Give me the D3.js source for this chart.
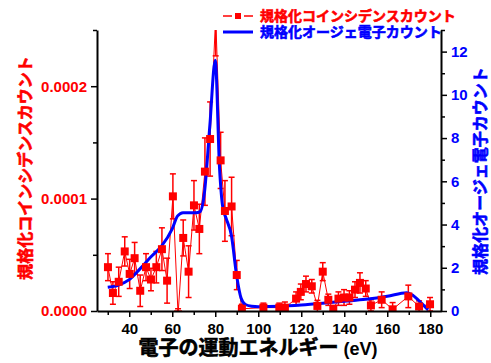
<!DOCTYPE html>
<html>
<head>
<meta charset="utf-8">
<script src="https://cdn.jsdelivr.net/npm/d3@7"></script>
<style>
  body { margin: 0; background: #fff; }
  text { font-family: "Liberation Sans", Arial, "Noto Sans CJK JP", sans-serif; font-weight: bold; }
  .heavy { stroke-width: 0.6px; paint-order: stroke; }
</style>
</head>
<body>
<svg id="chart" width="491" height="363"></svg>
<script>
// coincidence counts (x1e-4) with errors
var coinEnergy = [30.1, 32.4, 35.1, 37.9, 40.2, 42.5, 45.1, 47.8, 50.1, 52.6, 55.2, 57.6, 60.3, 62.7, 65.1, 67.6, 70.1, 72.6, 75.2, 77.6, 80.2, 82.5, 84.5, 87.6, 90.0, 92.4, 102.4, 109.8, 112.4, 117.6, 119.8, 122.2, 124.9, 127.5, 130.0, 132.6, 134.9, 137.3, 139.9, 142.4, 145.0, 147.3, 150.0, 152.4, 157.4, 162.5, 169.8, 174.8, 179.9];
var coinValue = [0.39, 0.16, 0.26, 0.53, 0.33, 0.47, 0.18, 0.39, 0.28, 0.39, 0.55, 0.27, 1.02, -0.03, 0.65, 0.35, 0.94, 0.73, 1.24, 1.53, 2.62, 1.34, 0.89, 0.93, 0.32, 0.02, 0.03, 0.03, 0.03, 0.11, 0.17, 0.24, 0.22, 0.045, 0.35, 0.10, 0.01, 0.11, 0.12, 0.12, 0.19, 0.25, 0.20, 0.05, 0.10, 0.015, 0.13, 0.04, 0.06];
var coinError = [0.12, 0.10, 0.13, 0.13, 0.13, 0.14, 0.14, 0.12, 0.10, 0.14, 0.19, 0.20, 0.20, 0.05, 0.16, 0.23, 0.22, 0.22, 0.30, 0.33, 0.35, 0.25, 0.27, 0.26, 0.13, 0.04, 0.04, 0.04, 0.05, 0.06, 0.07, 0.07, 0.06, 0.05, 0.08, 0.05, 0.04, 0.06, 0.07, 0.06, 0.07, 0.09, 0.07, 0.05, 0.07, 0.06, 0.10, 0.05, 0.06];

// auger electron counts
var augerEnergy = [30, 35, 40, 45, 50, 55, 60, 62.5, 65, 68, 71, 73, 75, 77.5, 80, 82, 83.5, 85, 87.5, 90, 92, 94, 97, 100, 110, 120, 130, 140, 150, 160, 169, 172, 176, 179];
var augerValue = [1.1, 1.2, 1.45, 1.95, 2.5, 3.0, 3.8, 4.4, 4.55, 4.55, 4.55, 4.6, 5.5, 8.6, 11.6, 6.6, 4.8, 4.3, 3.5, 1.6, 0.6, 0.3, 0.22, 0.2, 0.22, 0.28, 0.36, 0.45, 0.54, 0.68, 0.85, 0.72, 0.35, 0.05];

var xTicks = [40, 60, 80, 100, 120, 140, 160, 180];
var xMinor = [30, 50, 70, 90, 110, 130, 150, 170];
var leftTicks = [0, 0.0001, 0.0002];
var leftMinor = [0.00005, 0.00015, 0.00025];
var rightTicks = [0, 2, 4, 6, 8, 10, 12];
var rightMinor = [1, 3, 5, 7, 9, 11, 13];

var red = "#ff0000", blue = "#0000ff";
var svg = d3.select("#chart");

var x = d3.scaleLinear().domain([25, 185]).range([97, 441]);
var yL = d3.scaleLinear().domain([0, 0.00025]).range([311, 30]);
var yR = d3.scaleLinear().domain([0, 13]).range([311, 30]);

var coin = coinEnergy.map(function(e, i){
    return {e: e, v: coinValue[i] * 1e-4, err: coinError[i] * 1e-4};
});
var auger = augerEnergy.map(function(e, i){ return {e: e, v: augerValue[i]}; });

svg.append("clipPath").attr("id", "clip")
    .append("rect").attr("x", 97).attr("y", 30).attr("width", 344).attr("height", 281);

var plot = svg.append("g").attr("clip-path", "url(#clip)");

// red connecting line
plot.append("path")
    .datum(coin)
    .attr("fill", "none")
    .attr("stroke", red)
    .attr("stroke-width", 1)
    .attr("d", d3.line().x(function(d){ return x(d.e); }).y(function(d){ return yL(d.v); }));

// error bars
var eb = plot.selectAll(".eb").data(coin).enter().append("g")
    .attr("stroke", red).attr("stroke-width", 1.5);
eb.append("line")
    .attr("x1", function(d){ return x(d.e); }).attr("x2", function(d){ return x(d.e); })
    .attr("y1", function(d){ return yL(d.v - d.err); }).attr("y2", function(d){ return yL(d.v + d.err); });
eb.append("line")
    .attr("x1", function(d){ return x(d.e) - 3; }).attr("x2", function(d){ return x(d.e) + 3; })
    .attr("y1", function(d){ return yL(d.v + d.err); }).attr("y2", function(d){ return yL(d.v + d.err); });
eb.append("line")
    .attr("x1", function(d){ return x(d.e) - 3; }).attr("x2", function(d){ return x(d.e) + 3; })
    .attr("y1", function(d){ return yL(d.v - d.err); }).attr("y2", function(d){ return yL(d.v - d.err); });

// blue auger line
plot.append("path")
    .datum(auger)
    .attr("fill", "none")
    .attr("stroke", blue)
    .attr("stroke-width", 3)
    .attr("stroke-linejoin", "round")
    .attr("d", d3.line().curve(d3.curveMonotoneX)
        .x(function(d){ return x(d.e); }).y(function(d){ return yR(d.v); }));

// squares
plot.selectAll(".sq").data(coin).enter().append("rect")
    .attr("x", function(d){ return x(d.e) - 4; })
    .attr("y", function(d){ return yL(d.v) - 4; })
    .attr("width", 8).attr("height", 8)
    .attr("fill", red);

// axes
function styleAxis(g, color){
    g.select(".domain").attr("stroke", "#000").attr("stroke-width", 2);
    g.selectAll(".tick line").attr("stroke", "#000").attr("stroke-width", 1.5);
    g.selectAll("text").attr("fill", color).style("font-size", "15px");
}

var xAxis = svg.append("g").attr("transform", "translate(0,311)")
    .call(d3.axisBottom(x).tickValues(xTicks).tickSize(6).tickSizeOuter(0).tickPadding(6));
styleAxis(xAxis, "#000");
svg.append("g").attr("transform", "translate(0,311)")
    .call(d3.axisBottom(x).tickValues(xMinor).tickSize(4).tickFormat(""))
    .call(function(g){ g.select(".domain").remove(); g.selectAll("line").attr("stroke", "#000").attr("stroke-width", 1.5); });

var lAxis = svg.append("g").attr("transform", "translate(97,0)")
    .call(d3.axisLeft(yL).tickValues(leftTicks).tickSize(6).tickSizeOuter(0).tickPadding(4).tickFormat(d3.format(".4f")));
styleAxis(lAxis, red);
svg.append("g").attr("transform", "translate(97,0)")
    .call(d3.axisLeft(yL).tickValues(leftMinor).tickSize(4).tickFormat(""))
    .call(function(g){ g.select(".domain").remove(); g.selectAll("line").attr("stroke", "#000").attr("stroke-width", 1.5); });

var rAxis = svg.append("g").attr("transform", "translate(441,0)")
    .call(d3.axisRight(yR).tickValues(rightTicks).tickSize(6).tickSizeOuter(0).tickPadding(4).tickFormat(d3.format("d")));
styleAxis(rAxis, blue);
svg.append("g").attr("transform", "translate(441,0)")
    .call(d3.axisRight(yR).tickValues(rightMinor).tickSize(4).tickFormat(""))
    .call(function(g){ g.select(".domain").remove(); g.selectAll("line").attr("stroke", "#000").attr("stroke-width", 1.5); });

// axis titles
var xt = svg.append("text")
    .attr("class", "heavy")
    .attr("x", 258).attr("y", 355)
    .attr("text-anchor", "middle")
    .attr("fill", "#000").attr("stroke", "#000")
    .style("font-size", "20px");
xt.append("tspan").text("電子の運動エネルギー");
xt.append("tspan").style("font-size", "18px").attr("stroke-width", 0).text(" (eV)");

svg.append("text")
    .attr("class", "heavy")
    .attr("transform", "translate(31,168) rotate(-90)")
    .attr("text-anchor", "middle")
    .attr("fill", red).attr("stroke", red)
    .style("font-size", "16px")
    .text("規格化コインシデンスカウント");

svg.append("text")
    .attr("class", "heavy")
    .attr("transform", "translate(486,171) rotate(-90)")
    .attr("text-anchor", "middle")
    .attr("fill", blue).attr("stroke", blue)
    .style("font-size", "16px")
    .text("規格化オージェ電子カウント");

// legend
var lg = svg.append("g");
lg.append("line").attr("x1", 223).attr("x2", 232).attr("y1", 16).attr("y2", 16).attr("stroke", red).attr("stroke-width", 1.5);
lg.append("line").attr("x1", 244).attr("x2", 253).attr("y1", 16).attr("y2", 16).attr("stroke", red).attr("stroke-width", 1.5);
lg.append("rect").attr("x", 235).attr("y", 13).attr("width", 6).attr("height", 6).attr("fill", red);
lg.append("text").attr("class", "heavy").attr("x", 260).attr("y", 21).attr("fill", red).attr("stroke", red).style("font-size", "14px").text("規格化コインシデンスカウント");
lg.append("line").attr("x1", 223).attr("x2", 253).attr("y1", 32).attr("y2", 32).attr("stroke", blue).attr("stroke-width", 3);
lg.append("text").attr("class", "heavy").attr("x", 260).attr("y", 37).attr("fill", blue).attr("stroke", blue).style("font-size", "14px").text("規格化オージェ電子カウント");
</script>
</body>
</html>
